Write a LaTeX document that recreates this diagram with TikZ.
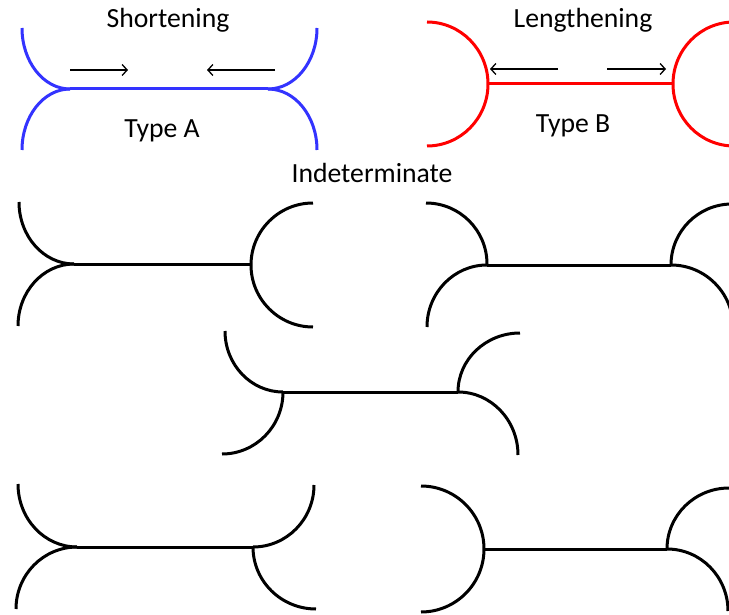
\documentclass[tikz,border=0pt]{standalone}
\usepackage{fontspec}
\setmainfont{Carlito}
\usetikzlibrary{arrows.meta}
\definecolor{typeA}{RGB}{51,51,255}
\definecolor{typeB}{RGB}{255,0,0}
\newcommand{\qarc}[6]{\draw ([shift={(#5:#3 and #4)}]#1,#2) arc[start angle=#5,end angle=#6,x radius=#3,y radius=#4];}
\tikzset{
  curve/.style={line width=3pt},
  lbl/.style={font=\fontsize{27.7}{32}\selectfont, anchor=base, inner sep=0pt},
  arr/.style={line width=1.3pt, black, -{Straight Barb[length=5pt,width=11pt]}}
}
\begin{document}
\begin{tikzpicture}[x=1pt,y=-1pt]
\useasboundingbox (0,0) rectangle (729,615);
\clip (0,0) rectangle (729,615);
% Type A
\begin{scope}[curve, typeA]
\qarc{70}{28}{48}{61}{180}{90}
\qarc{70}{150}{48}{61}{270}{180}
\draw (70,89) -- (268,89);
\qarc{268}{28}{49}{61}{90}{0}
\qarc{268}{150}{49}{61}{270}{360}
\end{scope}
\coordinate (a1s) at (70,70); \coordinate (a1e) at (128,70);
\coordinate (a2s) at (275,70); \coordinate (a2e) at (207,70);
\draw[arr] (a1s) -- (a1e);
\draw[arr] (a2s) -- (a2e);
\node[lbl] (short) at (168,28) {Shortening};
\node[lbl] (typea) at (162,138) {Type A};
% Type B
\begin{scope}[curve, typeB]
\qarc{427}{84}{61}{62}{270}{450}
\draw (488,84) -- (673,84);
\qarc{734}{84}{61}{62}{270}{90}
\end{scope}
\coordinate (b1s) at (558,69); \coordinate (b1e) at (490,69);
\coordinate (b2s) at (607,69); \coordinate (b2e) at (666,69);
\draw[arr] (b1s) -- (b1e);
\draw[arr] (b2s) -- (b2e);
\node[lbl] (long) at (583,28) {Lengthening};
\node[lbl] (typeb) at (573,133) {Type B};
\node[lbl] (indet) at (372,183) {Indeterminate};
% Indeterminate shapes
\begin{scope}[curve, black]
% row 1 left
\qarc{74}{202}{55}{62}{180}{90}
\qarc{74}{326}{56}{62}{270}{180}
\draw (74,264) -- (251,264);
\qarc{313}{265}{62}{62}{270}{90}
% row 1 right
\qarc{426}{264}{61}{61}{270}{360}
\qarc{487}{327}{60}{62}{270}{180}
\draw (487,265) -- (671,265);
\qarc{732}{265}{61}{61}{180}{270}
\qarc{671}{327}{62}{62}{270}{360}
% row 2
\qarc{283}{331}{58}{61}{180}{90}
\qarc{222}{392}{61}{62}{0}{90}
\draw (283,392) -- (458,392);
\qarc{520}{392}{62}{59}{180}{270}
\qarc{458}{455}{60}{63}{270}{360}
% row 3 left
\qarc{77}{484}{59}{63}{180}{90}
\qarc{77}{609}{61}{62}{270}{180}
\draw (77,547) -- (253,547);
\qarc{253}{485}{61}{62}{90}{0}
\qarc{316}{547}{63}{62}{180}{90}
% row 3 right
\qarc{421}{549}{63}{63}{270}{450}
\draw (484,549) -- (667,549);
\qarc{729}{549}{62}{61}{180}{270}
\qarc{667}{611}{61}{62}{270}{360}
\end{scope}
\end{tikzpicture}
\end{document}
